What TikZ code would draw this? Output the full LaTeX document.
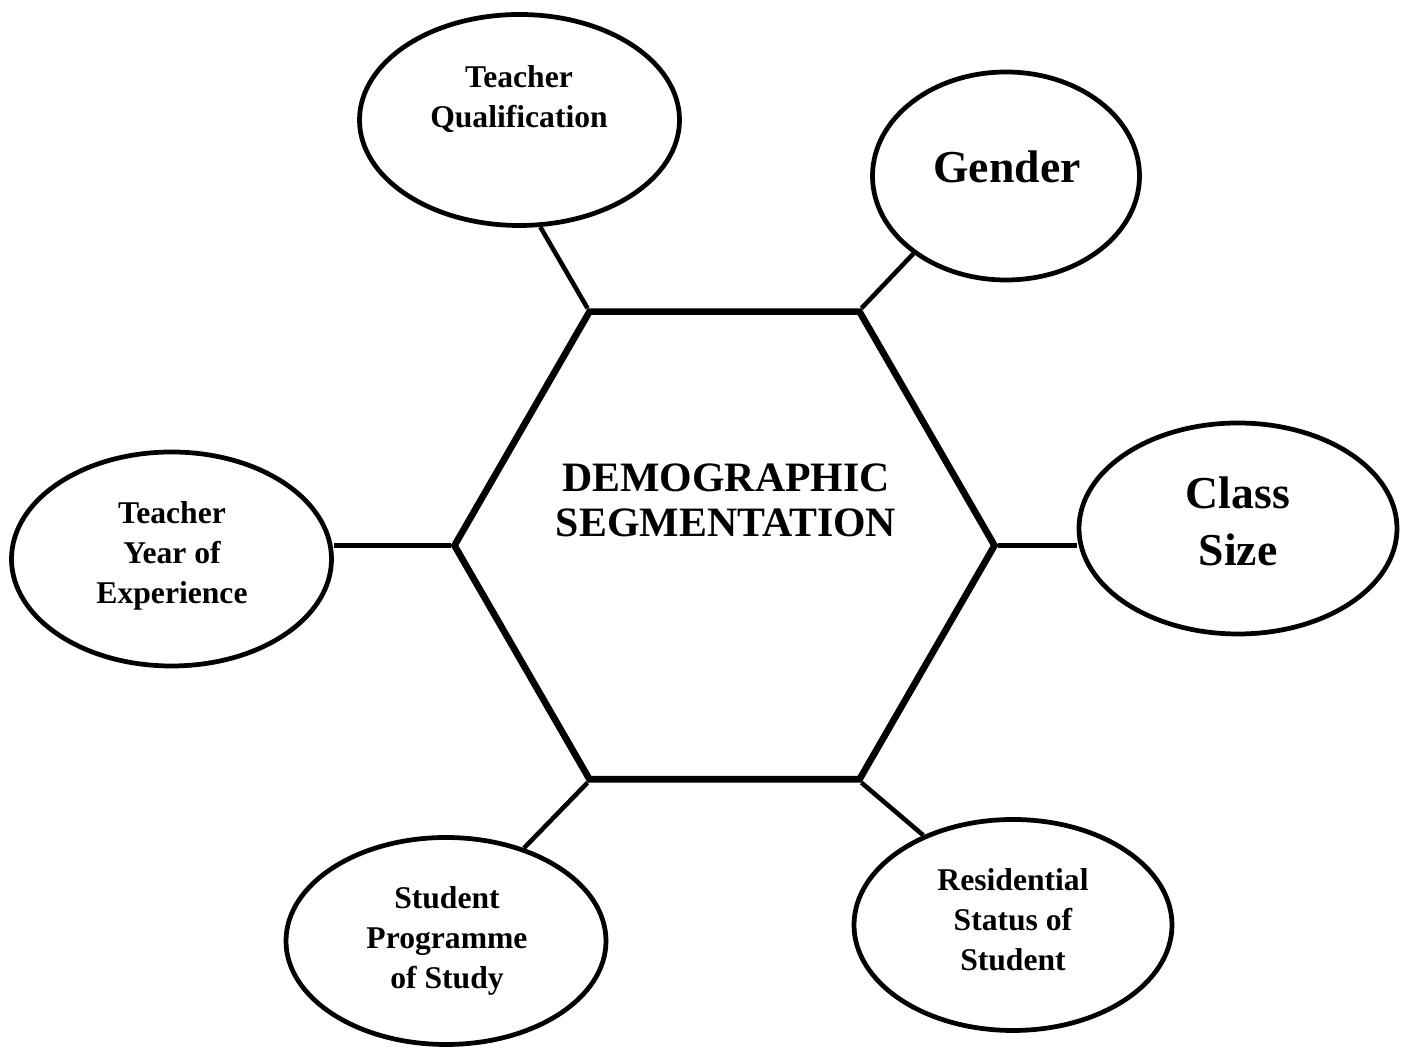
\documentclass[tikz,border=0pt]{standalone}
\usepackage{fontspec}
\setmainfont{Liberation Serif}
\usetikzlibrary{shapes.geometric}

\begin{document}
\begin{tikzpicture}
  \tikzstyle{hexa} = [regular polygon, regular polygon sides=6, draw, line width=1.9pt, inner sep=0pt, minimum size=5.4cm]
  \tikzstyle{factor} = [ellipse, draw, line width=1.35pt, inner sep=0pt, minimum width=3.2cm, minimum height=2.11cm]
  \tikzstyle{small} = [font=\fontsize{9}{11.4}\selectfont\bfseries, align=center]
  \tikzstyle{big} = [font=\fontsize{13}{16.2}\selectfont\bfseries, align=center]
  \tikzstyle{link} = [line width=1.3pt]

  \useasboundingbox (0,0) rectangle (14.05,10.48);

  % Centre
  \node [hexa] (hex) at (7.245,5.025) {};
  \node [font=\fontsize{11.9}{12.8}\selectfont\bfseries, align=center] (title) at (7.26,5.48) {DEMOGRAPHIC\\SEGMENTATION};

  % Top factors
  \node [factor] (qual) at (5.195,9.28) {};
  \node [small] (qualtext) at (5.19,9.49) {Teacher\\Qualification};
  \node [factor, minimum width=2.67cm, minimum height=2.08cm] (gender) at (10.06,8.72) {};
  \node [big] (gendertext) at (10.07,8.81) {Gender};

  % Side factors
  \node [factor, minimum width=3.18cm] (class) at (12.38,5.195) {};
  \node [big] (classtext) at (12.38,5.265) {Class\\Size};
  \node [factor, minimum height=2.14cm] (exper) at (1.715,4.89) {};
  \node [small] (expertext) at (1.72,4.92) {Teacher\\Year of\\Experience};

  % Bottom factors
  \node [factor, minimum height=2.07cm] (prog) at (4.46,1.07) {};
  \node [small] (progtext) at (4.47,1.07) {Student\\Programme\\of Study};
  \node [factor, minimum width=3.18cm] (resid) at (10.13,1.23) {};
  \node [small] (residtext) at (10.13,1.28) {Residential\\Status of\\Student};

  % Links to the hexagon
  \draw [link] (qual.-79) -- (hex.120);
  \draw [link] (gender.-140) -- (hex.60);
  \draw [link] (hex.0) -- (hex.0 -| class.west);
  \draw [link] (hex.180) -- (hex.180 -| exper.east);
  \draw [link] (prog.50) -- (hex.240);
  \draw [link] (resid.135) -- (hex.300);
\end{tikzpicture}
\end{document}
